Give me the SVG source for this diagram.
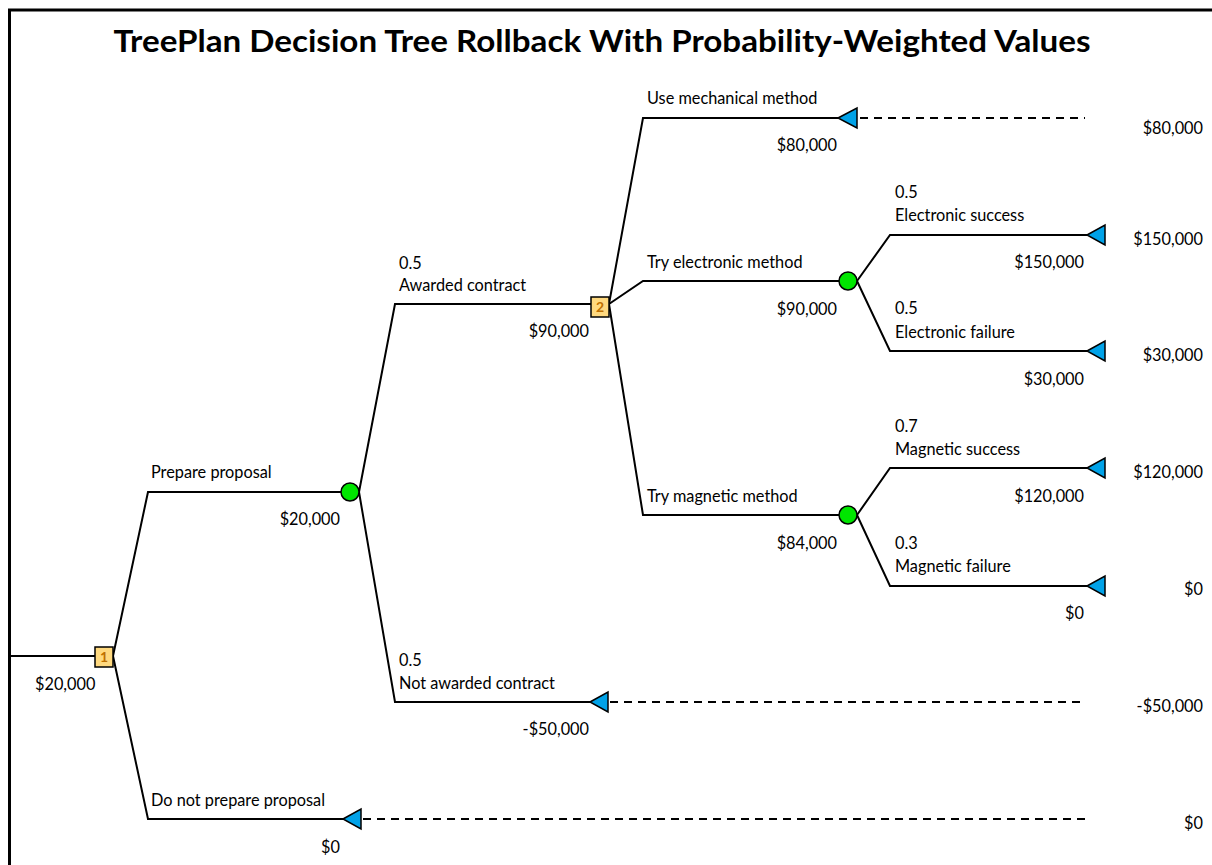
<svg xmlns="http://www.w3.org/2000/svg" width="1212" height="865" viewBox="0 0 1212 865">
<defs>
<style>
.br{fill:none;stroke:#000;stroke-width:2}
.ds{fill:none;stroke:#000;stroke-width:2;stroke-dasharray:8 6}
.t{font-family:Lato,"Liberation Sans",sans-serif;font-size:16.3px;fill:#000}
.r{text-anchor:end}
.dec{fill:#FFD97F;stroke:#000;stroke-width:1.5}
.num{font-family:Lato,"Liberation Sans",sans-serif;font-size:14px;font-weight:bold;fill:#C07000;text-anchor:middle}
.ch{fill:#00E600;stroke:#000;stroke-width:1.5}
.term{fill:#00A2E8;stroke:#000;stroke-width:1.5}
.title{font-family:Lato,"Liberation Sans",sans-serif;font-size:30px;font-weight:bold;fill:#000;text-anchor:middle}
</style>
</defs>
<rect width="1212" height="865" fill="#fff"/>
<path d="M9.5 865 V10 H1212" fill="none" stroke="#000" stroke-width="3"/>
<text class="title" x="602" y="52" textLength="977" lengthAdjust="spacingAndGlyphs">TreePlan Decision Tree Rollback With Probability-Weighted Values</text>

<g id="connectors">
<path class="br" d="M10 656 H95"/>
<path class="br" d="M113 656 L148 492 H341"/>
<path class="br" d="M113 656 L148 819 H343"/>
<path class="br" d="M359 492 L395 304 H591"/>
<path class="br" d="M359 492 L395 702 H590"/>
<path class="br" d="M609 304 L643 118 H838"/>
<path class="br" d="M609 304 L643 281 H839"/>
<path class="br" d="M609 304 L643 515 H839"/>
<path class="br" d="M857 281 L890 235 H1087"/>
<path class="br" d="M857 281 L890 351 H1087"/>
<path class="br" d="M857 515 L890 468 H1087"/>
<path class="br" d="M857 515 L890 586 H1087"/>
<path class="ds" d="M860 118 H1085"/>
<path class="ds" d="M610 702 H1085"/>
<path class="ds" d="M363 819 H1085"/>
</g>

<g id="node1">
<rect class="dec" x="95" y="647" width="18" height="20"/>
<text class="num" x="104" y="662">1</text>
<text class="t" x="35" y="690">$20,000</text>
</g>

<g id="prepare">
<text class="t" x="151" y="478">Prepare proposal</text>
<circle class="ch" cx="350" cy="492" r="9"/>
<text class="t r" x="340" y="525">$20,000</text>
</g>

<g id="donot">
<text class="t" x="151" y="806">Do not prepare proposal</text>
<path class="term" d="M343 819 L361 809 V829 Z"/>
<text class="t r" x="340" y="853">$0</text>
<text class="t r" x="1203" y="829">$0</text>
</g>

<g id="awarded">
<text class="t" x="399" y="269">0.5</text>
<text class="t" x="399" y="291">Awarded contract</text>
<rect class="dec" x="591" y="297" width="18" height="20"/>
<text class="num" x="600" y="312">2</text>
<text class="t r" x="589" y="337">$90,000</text>
</g>

<g id="notawarded">
<text class="t" x="399" y="666">0.5</text>
<text class="t" x="399" y="689">Not awarded contract</text>
<path class="term" d="M590 702 L608 692 V712 Z"/>
<text class="t r" x="589" y="735">-$50,000</text>
<text class="t r" x="1203" y="712">-$50,000</text>
</g>

<g id="mechanical">
<text class="t" x="647" y="104">Use mechanical method</text>
<path class="term" d="M838 118 L857 108 V128 Z"/>
<text class="t r" x="837" y="151">$80,000</text>
<text class="t r" x="1203" y="134">$80,000</text>
</g>

<g id="electronic">
<text class="t" x="647" y="268">Try electronic method</text>
<circle class="ch" cx="848" cy="281" r="9"/>
<text class="t r" x="837" y="315">$90,000</text>
</g>

<g id="esuccess">
<text class="t" x="895" y="198">0.5</text>
<text class="t" x="895" y="221">Electronic success</text>
<path class="term" d="M1087 235 L1105 225 V245 Z"/>
<text class="t r" x="1084" y="268">$150,000</text>
<text class="t r" x="1203" y="245">$150,000</text>
</g>

<g id="efailure">
<text class="t" x="895" y="314">0.5</text>
<text class="t" x="895" y="338">Electronic failure</text>
<path class="term" d="M1087 351 L1105 341 V361 Z"/>
<text class="t r" x="1084" y="385">$30,000</text>
<text class="t r" x="1203" y="361">$30,000</text>
</g>

<g id="magnetic">
<text class="t" x="647" y="502">Try magnetic method</text>
<circle class="ch" cx="848" cy="515" r="9"/>
<text class="t r" x="837" y="549">$84,000</text>
</g>

<g id="msuccess">
<text class="t" x="895" y="432">0.7</text>
<text class="t" x="895" y="455">Magnetic success</text>
<path class="term" d="M1087 468 L1105 458 V478 Z"/>
<text class="t r" x="1084" y="502">$120,000</text>
<text class="t r" x="1203" y="478">$120,000</text>
</g>

<g id="mfailure">
<text class="t" x="895" y="549">0.3</text>
<text class="t" x="895" y="572">Magnetic failure</text>
<path class="term" d="M1087 586 L1105 576 V596 Z"/>
<text class="t r" x="1084" y="619">$0</text>
<text class="t r" x="1203" y="595">$0</text>
</g>
</svg>
